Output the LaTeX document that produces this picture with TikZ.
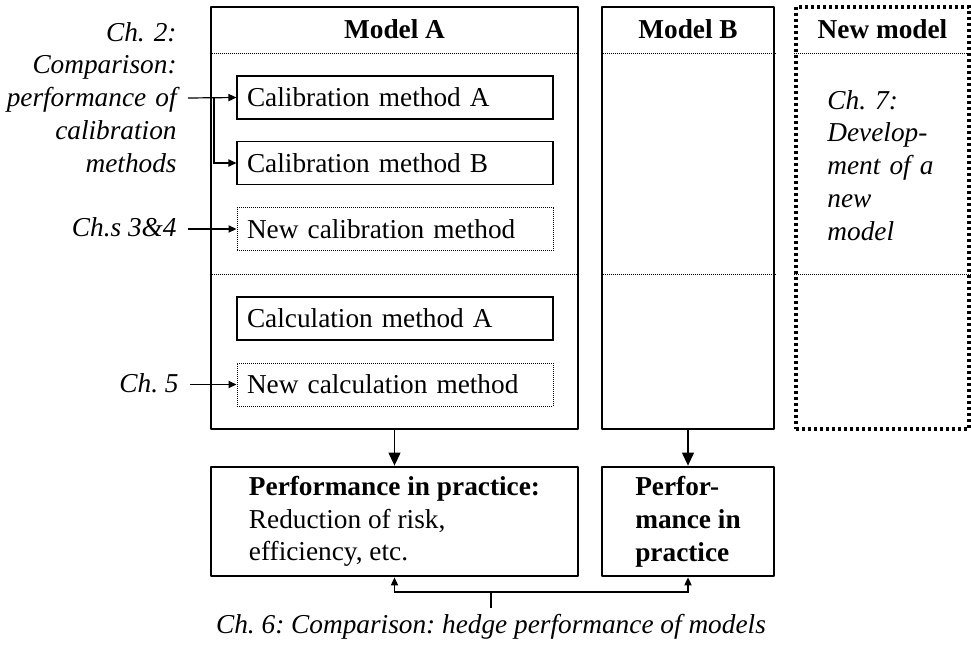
\documentclass[tikz,border=0pt]{standalone}
\usepackage{fontspec}
\setmainfont{Liberation Serif}
\usetikzlibrary{arrows.meta}
\newcommand{\diagfont}{\fontsize{13.65pt}{16.4pt}\selectfont\frenchspacing}

\begin{document}
\begin{tikzpicture}[x=0.5pt, y=-0.5pt,
  every node/.style={font=\diagfont},
  modelbox/.style={draw, line width=1.4pt, line join=round, inner sep=0pt, minimum height=211pt},
  newmodelbox/.style={modelbox, line width=1.6pt, line join=miter, dash pattern=on 1.5pt off 1.5pt},
  perfbox/.style={draw, line width=1.4pt, line join=round, inner sep=0pt, minimum height=54.5pt, align=left},
  methodbox/.style={draw, line width=0.55pt, minimum width=158pt, minimum height=21.5pt,
                    text width=148pt, inner xsep=5pt, inner ysep=0pt, align=left},
  newmethodbox/.style={methodbox, line width=0.5pt, dash pattern=on 0.5pt off 0.5pt},
  finedot/.style={line width=0.5pt, dash pattern=on 0.5pt off 0.5pt},
  head/.style={font=\diagfont\bfseries, anchor=base, inner sep=0pt},
  annot/.style={font=\diagfont\itshape, inner sep=0pt},
  conn/.style={line width=0.6pt},
  arr/.style={conn, -{Triangle[length=4pt, width=3.6pt]}},
  bigarr/.style={conn, -{Triangle[length=6.5pt, width=6pt]}},
]
\useasboundingbox (0,0) rectangle (971,649);

% model columns
\node[modelbox, minimum width=183.5pt] (modelA) at (394.5,218) {};
\node[modelbox, minimum width=86pt] (modelB) at (688,218) {};
\node[newmodelbox, minimum width=86.5pt] (newmodel) at (882.5,218) {};

% header and section separators
\coordinate (hdr) at (0,53);
\coordinate (sec) at (0,274);
\foreach \m in {modelA, modelB, newmodel} {
  \draw[finedot] (\m.west |- hdr) -- (\m.east |- hdr);
  \draw[finedot] (\m.west |- sec) -- (\m.east |- sec);
}

% column titles
\node[head] (titleA) at (394.5,38) {Model A};
\node[head] (titleB) at (688,38) {Model B};
\node[head] (titleN) at (882.5,38) {New model};

% methods of model A
\node[methodbox] (calA) at (395,97.5) {Calibration method A};
\node[methodbox] (calB) at (395,163) {Calibration method B};
\node[newmethodbox] (newcal) at (395,229) {New calibration method};
\node[methodbox] (calcA) at (395,318.5) {Calculation method A};
\node[newmethodbox] (newcalc) at (395,384.5) {New calculation method};

% performance boxes
\node[perfbox, minimum width=183.5pt] (perfA) at (394.5,521.5)
  {\textbf{Performance in practice:}\\Reduction of risk,\\efficiency, etc.};
\node[perfbox, minimum width=86pt, font=\diagfont\bfseries] (perfB) at (688,521.5)
  {Perfor-\\mance in\\practice};

% chapter annotations
\node[annot, text width=100pt, align=right, anchor=base east] (ch2) at (177,41)
  {Ch. 2:\\Comparison:\\performance of\\calibration\\methods};
\node[annot, anchor=base east] (ch34) at (177,236) {Ch.s 3\&4};
\node[annot, anchor=base east] (ch5) at (179,392) {Ch. 5};
\node[annot, text width=60pt, align=left, anchor=base west] (ch7) at (827,109)
  {Ch. 7:\\Develop-\\ment of a\\new\\model};
\node[annot, anchor=base] (ch6) at (491,633) {Ch. 6: Comparison: hedge performance of models};

% annotation arrows
\coordinate (c2start) at (188,98);
\coordinate (c2branch) at (214,98);
\coordinate (c34start) at (188,229);
\coordinate (c5start) at (190,384.5);
\draw[arr] (c2start) -- (calA.west);
\draw[arr] (c2branch) |- (calB.west);
\draw[arr] (c34start) -- (newcal.west);
\draw[arr] (c5start) -- (newcalc.west);

% models to performance
\draw[bigarr] (modelA.south) -- (perfA.north);
\draw[bigarr] (modelB.south) -- (perfB.north);

% comparison of performance
\coordinate (fbfoot) at (491,608);
\coordinate (fbjoin) at (491,592);
\draw[conn] (fbfoot) -- (fbjoin);
\draw[arr] (fbjoin) -| (perfA.south);
\draw[arr] (fbjoin) -| (perfB.south);
\end{tikzpicture}
\end{document}
